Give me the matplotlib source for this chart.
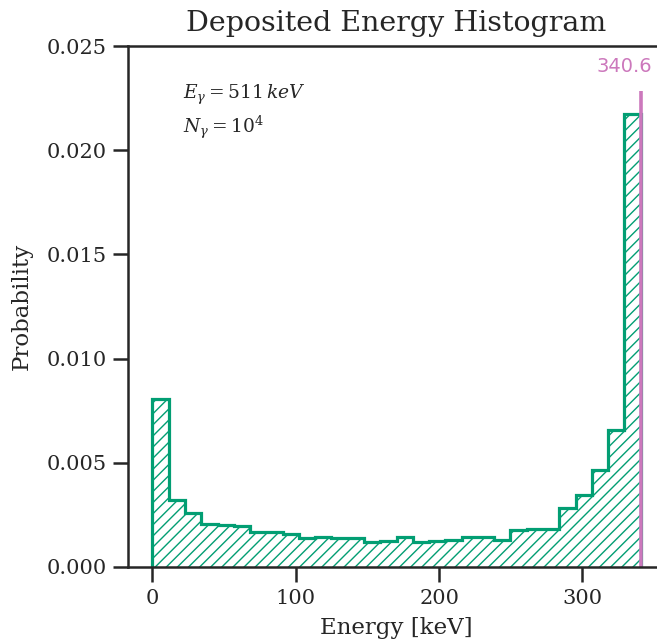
import numpy as np
import matplotlib
matplotlib.use("Agg")
import matplotlib.pyplot as plt

# bin edges (keV) and probability per bin
e_max = 340.6
n_bins = 30
bin_edges = np.linspace(0, e_max, n_bins + 1)
probability = [0.00806, 0.00320, 0.00259, 0.00207, 0.00202, 0.00195,
               0.00168, 0.00166, 0.00160, 0.00138, 0.00146, 0.00141,
               0.00139, 0.00118, 0.00123, 0.00144, 0.00118, 0.00125,
               0.00130, 0.00144, 0.00144, 0.00128, 0.00176, 0.00181,
               0.00181, 0.00283, 0.00347, 0.00465, 0.00656, 0.02176]

green = '#029e73'
pink = '#cc78bc'

plt.rcParams['font.family'] = 'DejaVu Serif'
plt.rcParams['mathtext.fontset'] = 'dejavuserif'
plt.rcParams['text.color'] = '#262626'
plt.rcParams['axes.labelcolor'] = '#262626'
plt.rcParams['xtick.color'] = '#262626'
plt.rcParams['ytick.color'] = '#262626'

fig = plt.figure(figsize=(6.57, 6.42), dpi=100)
# axes runs past the right edge of the figure, as in the reference crop
ax = fig.add_axes([128 / 657, 75 / 642, 537 / 657, 521 / 642])

ax.hist(bin_edges[:-1], bins=bin_edges, weights=probability,
        histtype='step', color=green, linewidth=2.3, hatch='///')

top = max(probability) * 1.05
ax.vlines(e_max, 0, top, color=pink, linewidth=2.6)
ax.text(e_max - 11.2, 0.0240, f'{e_max}', color=pink, fontsize=14,
        family='DejaVu Sans', ha='center', va='center')

ax.text(0.102, 0.907, r'$E_\gamma = 511\,keV$', transform=ax.transAxes,
        fontsize=13.4, va='center')
ax.text(0.102, 0.843, r'$N_\gamma = 10^4$', transform=ax.transAxes,
        fontsize=13.4, va='center')

ax.set_xlim(-17.03, 357.6)
ax.set_ylim(0, 0.025)
ax.set_xticks([0, 100, 200, 300])
ax.set_yticks([0, 0.005, 0.010, 0.015, 0.020, 0.025])
ax.set_yticklabels(['0.000', '0.005', '0.010', '0.015', '0.020', '0.025'])

for side in ['left', 'bottom', 'top']:
    ax.spines[side].set_linewidth(1.8)
    ax.spines[side].set_color('#262626')
ax.spines['right'].set_visible(False)

ax.tick_params(axis='both', which='major', length=11, width=1.8,
               labelsize=15, pad=4.5)

ax.set_title('Deposited Energy Histogram', fontsize=20.5, pad=11)
ax.set_xlabel('Energy [keV]', fontsize=16.5, labelpad=7)
ax.set_ylabel('Probability', fontsize=16.5, labelpad=10)

fig.savefig('out.png', dpi=100)
